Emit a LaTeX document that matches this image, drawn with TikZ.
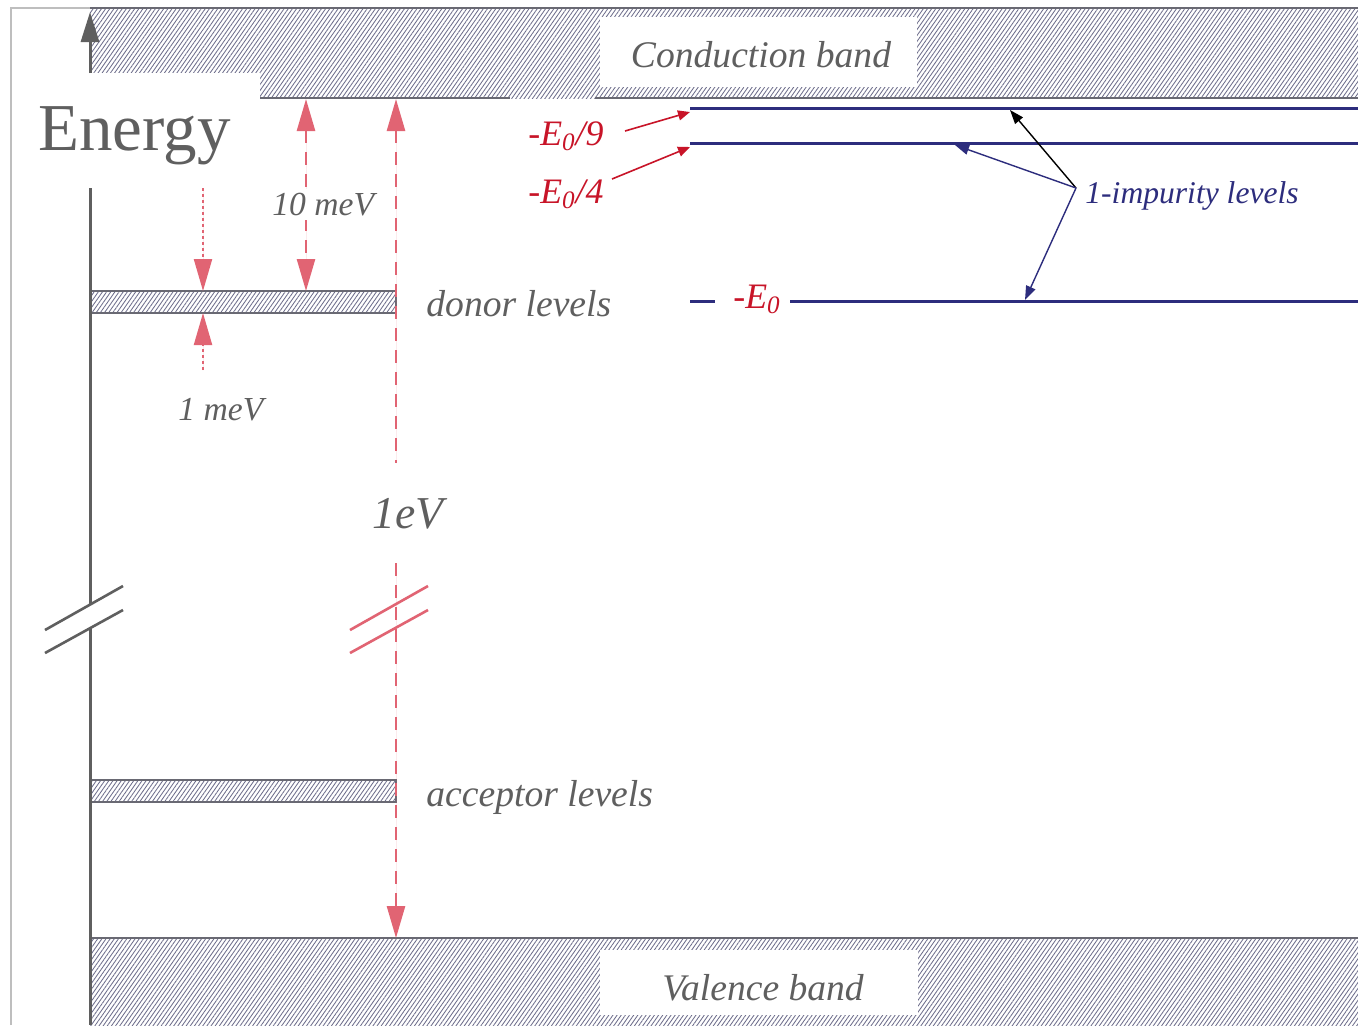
\documentclass[tikz,border=0pt]{standalone}
\usepackage{fontspec}
\setmainfont{Liberation Serif}
\usetikzlibrary{patterns.meta,arrows.meta}
\definecolor{axisgray}{RGB}{95,95,95}
\definecolor{labgray}{RGB}{95,95,95}
\definecolor{hatchc}{RGB}{110,110,140}
\definecolor{bandline}{RGB}{105,105,115}
\definecolor{framec}{RGB}{190,190,190}
\definecolor{pinkc}{RGB}{225,100,115}
\definecolor{redc}{RGB}{200,20,40}
\definecolor{navyc}{RGB}{45,45,125}
\tikzset{
  hatched/.style={pattern={Lines[angle=55,distance=1.7pt,line width=0.42pt]},pattern color=hatchc},
  bandedge/.style={draw=bandline,line width=0.8pt},
  whitebox/.style={fill=white,draw=none},
  lab/.style={text=labgray,font=\itshape\fontsize{18.8}{22}\selectfont,inner sep=0pt},
  smalllab/.style={text=labgray,font=\itshape\fontsize{16.8}{20}\selectfont,inner sep=0pt},
  redlab/.style={text=redc,font=\itshape\fontsize{17.9}{21}\selectfont,inner sep=0pt},
  bluelab/.style={text=navyc,font=\itshape\fontsize{15.8}{19}\selectfont,inner sep=0pt},
  pinkdash/.style={draw=pinkc,fill=pinkc,line width=1.3pt,dash pattern=on 6.5pt off 4.5pt},
  pinkdot/.style={draw=pinkc,fill=pinkc,line width=1.1pt,dash pattern=on 1.4pt off 1.6pt},
  axisline/.style={draw=axisgray,line width=1.5pt},
  breakline/.style={line width=1.3pt},
  level/.style={draw=navyc,line width=1.5pt},
  redarr/.style={draw=redc,line width=0.8pt,-{Triangle[length=6pt,width=5pt]}},
  bluearr/.style={draw=navyc,line width=0.7pt,-{Triangle[length=7pt,width=5pt]}},
  blackarr/.style={draw=black,line width=0.7pt,-{Triangle[length=7pt,width=5pt]}}
}
\begin{document}
\begin{tikzpicture}[x=0.5pt,y=-0.5pt]
\useasboundingbox (0,0) rectangle (1358,1025);
\fill[white] (0,0) rectangle (1358,1025);
% frame
\draw[framec,line width=0.8pt] (11,1025) -- (11,8) -- (90,8);
% conduction band
\fill[hatched] (90,8) rectangle (1358,98);
\draw[bandedge] (90,8) -- (1358,8);
\draw[bandedge] (260,98) -- (510,98);
\draw[bandedge] (595,98) -- (1358,98);
\fill[whitebox] (15,73) rectangle (260,188);
\fill[whitebox] (600,17) rectangle (917,87);
\node[lab,anchor=base] (cb) at (761,67) {Conduction band};
% valence band
\fill[hatched] (90,938) rectangle (1358,1025);
\draw[bandedge] (90,938) -- (1358,938);
\fill[whitebox] (600,950) rectangle (918,1015);
\node[lab,anchor=base] (vb) at (763,1000) {Valence band};
% donor and acceptor bands
\draw[bandedge,hatched] (90,291) rectangle (396,313);
\draw[bandedge,hatched] (90,780) rectangle (396,802);
\node[lab,anchor=base west] (don) at (426,316) {donor levels};
\node[lab,anchor=base west] (acc) at (426,806) {acceptor levels};
% Energy label
\node[text=labgray,font=\fontsize{33.5}{38}\selectfont,inner sep=0pt,anchor=base west] (en) at (38,150) {Energy};
% axis
\coordinate (ax0) at (90,73);
\coordinate (ax1) at (90,12);
\coordinate (ax2) at (90,188);
\coordinate (ax3) at (90,605);
\coordinate (ax4) at (90,628);
\coordinate (ax5) at (90,1025);
\draw[axisline,-{Triangle[length=15pt,width=9pt]}] (ax0) -- (ax1);
\draw[axisline] (ax2) -- (ax3);
\draw[axisline] (ax4) -- (ax5);
\draw[breakline,draw=axisgray] (45,630) -- (123,586);
\draw[breakline,draw=axisgray] (45,653) -- (123,610);
% 1 eV arrow
\coordinate (ev0) at (396,99);
\coordinate (ev1) at (396,463);
\coordinate (ev2) at (396,563);
\coordinate (ev3) at (396,938);
\draw[pinkdash,{Triangle[length=16pt,width=9pt]}-] (ev0) -- (ev1);
\draw[pinkdash,-{Triangle[length=16pt,width=9pt]}] (ev2) -- (ev3);
\draw[breakline,draw=pinkc] (350,630) -- (428,586);
\draw[breakline,draw=pinkc] (350,653) -- (428,610);
\node[text=labgray,font=\itshape\fontsize{22.8}{26}\selectfont,inner sep=0pt,anchor=base west] (ev) at (372,528) {1eV};
% 10 meV arrow
\coordinate (m0) at (306,99);
\coordinate (m1) at (306,291);
\draw[pinkdash,{Triangle[length=16pt,width=9pt]}-{Triangle[length=16pt,width=9pt]}] (m0) -- (m1);
\node[smalllab,fill=white,inner sep=2pt,anchor=base west] (tenmev) at (268,215) {10 meV};
% 1 meV arrows
\coordinate (d0) at (203,188);
\coordinate (d1) at (203,291);
\coordinate (d2) at (203,370);
\coordinate (d3) at (203,313);
\draw[pinkdot,-{Triangle[length=16pt,width=9pt]}] (d0) -- (d1);
\draw[pinkdot,-{Triangle[length=16pt,width=9pt]}] (d2) -- (d3);
\node[smalllab,anchor=base west] (onemev) at (178,420) {1 meV};
% impurity levels
\coordinate (l9a) at (690,108);
\coordinate (l9b) at (1358,108);
\coordinate (l4a) at (690,143);
\coordinate (l4b) at (1358,143);
\coordinate (l1a) at (690,301);
\coordinate (l1b) at (715,301);
\coordinate (l1c) at (790,301);
\coordinate (l1d) at (1358,301);
\draw[level] (l9a) -- (l9b);
\draw[level] (l4a) -- (l4b);
\draw[level] (l1a) -- (l1b);
\draw[level] (l1c) -- (l1d);
\node[redlab,anchor=base west] (e9) at (528,145) {-E\textsubscript{0}/9};
\node[redlab,anchor=base west] (e4) at (528,203) {-E\textsubscript{0}/4};
\node[redlab,anchor=base west] (e1) at (733,308) {-E\textsubscript{0}};
\coordinate (a9) at (625,131);
\coordinate (t9) at (690,112);
\coordinate (a4) at (612,179);
\coordinate (t4) at (690,147);
\draw[redarr] (a9) -- (t9);
\draw[redarr] (a4) -- (t4);
\node[bluelab,anchor=base west] (imp) at (1085,203) {1-impurity levels};
\coordinate (io) at (1076,188);
\coordinate (ib) at (1010,110);
\coordinate (i4) at (955,145);
\coordinate (i1) at (1025,300);
\draw[blackarr] (io) -- (ib);
\draw[bluearr] (io) -- (i4);
\draw[bluearr] (io) -- (i1);
\end{tikzpicture}
\end{document}
